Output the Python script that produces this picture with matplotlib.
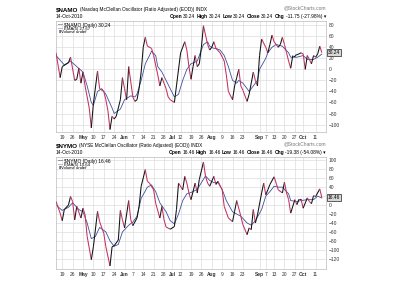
import numpy as np
import matplotlib
matplotlib.use("Agg")
from matplotlib import pyplot as plt
from matplotlib.collections import LineCollection

plt.rcParams['font.family'] = ['Liberation Sans', 'DejaVu Sans']

# x values are trading days counted from Mon 19-Apr-2010
namo_days = [-3, -1, 0, 3, 4, 6, 7, 8, 9, 10, 11, 13, 14, 15, 17, 18, 20, 21, 22, 23,
             24, 25, 26, 28, 29, 30, 31, 32, 34, 35, 36, 37, 38, 39, 40, 41, 43, 44, 46, 47,
             48, 50, 51, 52, 54, 55, 57, 58, 59, 60, 61, 62, 63, 64, 65, 66, 67, 68, 70, 71,
             72, 73, 74, 76, 78, 79, 80, 82, 83, 84, 85, 86, 87, 89, 90, 92, 93, 94, 95, 96,
             98, 99, 100, 101, 102, 104, 105, 106, 107, 108, 109, 110, 111, 112, 114, 115, 116, 117, 118, 119,
             120, 121, 122, 123, 124, 125]
namo_vals = [30, -15, 5, 12, 22, -20, -18, 2, -25, -5, -30, -70, -106, -62, -3, -35, -40, -55, -75, -109,
             -85, -90, -85, -55, -15, -35, -55, 5, -50, -58, -55, -35, -5, 40, 58, 42, 38, 25, -10, -30,
             -15, -35, -50, -55, -60, -30, 30, 40, 50, 35, 5, -18, 5, 25, 5, 10, 40, 79, 45, 35,
             40, 50, 38, 30, 15, -10, -40, -55, -30, -15, 0, -30, -38, -58, -45, -5, -20, -30, 25, 55,
             40, 30, 45, 62, 50, 40, 45, 58, 45, 30, 15, 2, 25, 25, 28, 30, 28, 0, 25, 18,
             10, 25, 22, 28, 42, 30.24]
namo_ema_days = [-3, 1, 4, 7, 10, 12, 14, 15, 17, 19, 21, 24, 25, 28, 30, 33, 35, 36, 38, 40,
                 42, 43, 45, 46, 48, 50, 52, 54, 56, 58, 60, 62, 65, 66, 68, 70, 71, 73, 74, 76,
                 78, 80, 82, 84, 85, 87, 89, 90, 92, 94, 95, 98, 99, 101, 103, 106, 107, 109, 110, 113,
                 116, 118, 121, 123, 125]
namo_ema_vals = [25, 8, 15, 5, -5, -30, -60, -65, -40, -35, -45, -70, -80, -72, -55, -48, -50, -45, -20, 10,
                 25, 33, 25, 5, -5, -20, -35, -50, -45, -20, 0, 10, 15, 25, 45, 50, 42, 38, 38, 35,
                 25, 5, -20, -25, -20, -25, -35, -40, -30, -20, 0, 20, 30, 40, 45, 42, 38, 30, 22, 22,
                 25, 18, 18, 22, 27.67]

nymo_days = [-3, -1, 0, 1, 3, 4, 5, 6, 7, 9, 10, 11, 12, 14, 15, 17, 18, 20, 21, 23,
             24, 25, 27, 28, 29, 30, 32, 33, 34, 36, 37, 38, 40, 41, 42, 44, 45, 47, 48, 49,
             50, 52, 54, 55, 56, 58, 59, 60, 61, 62, 64, 65, 66, 68, 69, 70, 71, 73, 74, 75,
             77, 78, 80, 82, 83, 84, 86, 87, 89, 90, 91, 92, 93, 94, 96, 97, 98, 99, 100, 102,
             103, 104, 106, 107, 108, 109, 110, 112, 113, 114, 115, 116, 118, 119, 120, 121, 122, 124, 125]
nymo_vals = [8, -18, -35, -10, 0, 19, 8, -33, -3, -29, -7, -22, -70, -122, -93, -14, -37, -63, -93, -136,
             -93, -91, -78, -12, -33, -51, 10, -33, -46, -29, -3, 42, 79, 53, 49, 34, 4, -29, -3, -33,
             -49, -54, -48, -10, 49, 34, 64, 49, 27, 12, 49, 27, 57, 96, 64, 49, 42, 64, 46, 53,
             34, -3, -29, -37, -14, 10, -25, -44, -66, -51, -55, -10, -40, -22, 27, 49, 23, 34, 46, 63,
             49, 34, 27, 51, 27, 12, -18, 12, 1, 13, 13, -7, 16, 8, 3, 21, 19, 36, 16.46]
nymo_ema_days = [-3, 0, 3, 5, 8, 10, 12, 14, 16, 18, 21, 23, 25, 27, 29, 32, 34, 36, 38, 41,
                 43, 45, 47, 50, 52, 54, 56, 58, 60, 62, 65, 67, 69, 71, 73, 75, 77, 79, 82, 84,
                 86, 89, 91, 93, 96, 98, 100, 102, 104, 106, 109, 110, 113, 115, 118, 121, 123, 125]
nymo_ema_vals = [0, -12, -5, 5, -10, -15, -40, -75, -70, -50, -60, -80, -92, -88, -60, -45, -38, -25, 15, 40,
                 45, 30, 5, -15, -35, -42, -20, 10, 25, 28, 35, 50, 65, 55, 50, 50, 35, 10, -15, -20,
                 -25, -40, -45, -35, -10, 20, 30, 42, 40, 40, 25, 10, 8, 10, 12, 12, 20, 15.64]

tick_days = [0, 5, 10, 15, 20, 25, 30, 34, 39, 44, 49, 53, 57, 62, 67, 72, 77, 82, 87,
             95, 98, 102, 107, 112, 116, 122]
tick_labels = ['19', '26', 'May', '10', '17', '24', 'Jun', '7', '14', '21', '28', 'Jul', '12',
               '19', '26', 'Aug', '9', '16', '23', 'Sep', '7', '13', '20', '27', 'Oct', '11']
months = ['May', 'Jun', 'Jul', 'Aug', 'Sep', 'Oct']

UP = '#111111'
DOWN = '#c4305f'
EMA_C = '#3f4f9f'
GRID = '#dddddd'
FS = 3.5

fig = plt.figure(figsize=(4, 3), dpi=100)
renderer = fig.canvas.get_renderer()


def rich(x, y, parts, ha='left', gap=0.003):
    objs = [fig.text(0, y, t, fontsize=s, fontweight='bold' if b else 'normal',
                     va='baseline') for t, b, s in parts]
    widths = [o.get_window_extent(renderer).width / fig.bbox.width for o in objs]
    total = sum(widths) + gap * (len(objs) - 1)
    pos = x if ha == 'left' else x - total
    for o, w in zip(objs, widths):
        o.set_x(pos)
        pos += w + gap


def panel(rect, sym, name, days, vals, ema_days, ema_vals, ylim, yticks, head):
    ax = fig.add_axes(rect)
    d = np.array(days, dtype=float)
    v = np.array(vals, dtype=float)
    segs = np.stack([np.column_stack([d[:-1], v[:-1]]), np.column_stack([d[1:], v[1:]])], axis=1)
    cols = [UP if b >= a else DOWN for a, b in zip(v[:-1], v[1:])]
    ax.add_collection(LineCollection(segs, colors=cols, linewidths=0.75, zorder=3))
    ax.plot(ema_days, ema_vals, color=EMA_C, lw=0.6, zorder=2)

    ax.set_xlim(-3, 127)
    ax.set_ylim(*ylim)
    ax.set_xticks(tick_days)
    ax.set_xticklabels(tick_labels)
    for lab in ax.get_xticklabels():
        if lab.get_text() in months:
            lab.set_fontweight('bold')
    ax.set_yticks(yticks)
    ax.yaxis.tick_right()
    ax.tick_params(length=0, labelsize=FS, colors='#333333', pad=2)
    ax.grid(True, color=GRID, lw=0.5)
    ax.set_axisbelow(True)
    for s in ax.spines.values():
        s.set_color('#bbbbbb')
        s.set_linewidth(0.5)

    # legend lines inside plot
    ax.text(0.008, 0.985, '\u2014', color=UP, fontsize=FS, transform=ax.transAxes, va='top')
    ax.text(0.03, 0.985, '%s (Daily) %.2f' % (sym, vals[-1]), fontsize=FS, transform=ax.transAxes, va='top')
    ax.text(0.008, 0.95, '\u2014', color=EMA_C, fontsize=FS, transform=ax.transAxes, va='top')
    ax.text(0.03, 0.95, 'EMA(5) %.2f' % ema_vals[-1], fontsize=FS - 0.4, transform=ax.transAxes, va='top')
    ax.text(0.008, 0.915, '\u25ae', color='#555555', fontsize=FS - 0.6, transform=ax.transAxes, va='top')
    ax.text(0.02, 0.915, 'Volume undef', fontsize=FS - 0.4, transform=ax.transAxes, va='top')

    # last value box on the right axis
    ax.annotate('%.2f' % vals[-1], xy=(1.0, vals[-1]), xycoords=('axes fraction', 'data'),
                xytext=(1.5, 0), textcoords='offset points', fontsize=FS, va='center',
                bbox=dict(boxstyle='square,pad=0.15', fc='#d8d8d8', ec='#222222', lw=0.5),
                annotation_clip=False, zorder=5)

    top = rect[1] + rect[3]
    rich(rect[0], top + 0.033, [(sym, True, FS + 1.0), (name, False, FS - 0.1)])
    fig.text(rect[0] + rect[2], top + 0.038, '@StockCharts.com', fontsize=FS, color='#777777',
             ha='right', va='baseline')
    fig.text(rect[0], top + 0.011, '14-Oct-2010', fontsize=FS, va='baseline')
    rich(rect[0] + rect[2], top + 0.011, [(t, b, FS) for t, b in head], ha='right')
    return ax


panel([0.14, 0.56, 0.675, 0.37], '$NAMO', '(Nasdaq McClellan Oscillator (Ratio Adjusted) (EOD)) INDX',
      namo_days, namo_vals, namo_ema_days, namo_ema_vals, (-113.5, 87.6), range(-100, 81, 20),
      [('Open', True), ('30.24', False), ('High', True), ('30.24', False), ('Low', True), ('30.24', False),
       ('Close', True), ('30.24', False), ('Chg', True), ('-11.75 (-27.98%) \u25be', False)])

panel([0.14, 0.103, 0.675, 0.374], '$NYMO', '(NYSE McClellan Oscillator (Ratio Adjusted) (EOD)) INDX',
      nymo_days, nymo_vals, nymo_ema_days, nymo_ema_vals, (-143, 107.5), range(-120, 101, 20),
      [('Open', True), ('16.46', False), ('High', True), ('16.46', False), ('Low', True), ('16.46', False),
       ('Close', True), ('16.46', False), ('Chg', True), ('-19.38 (-54.08%) \u25be', False)])

fig.savefig('out.png', dpi=100)
